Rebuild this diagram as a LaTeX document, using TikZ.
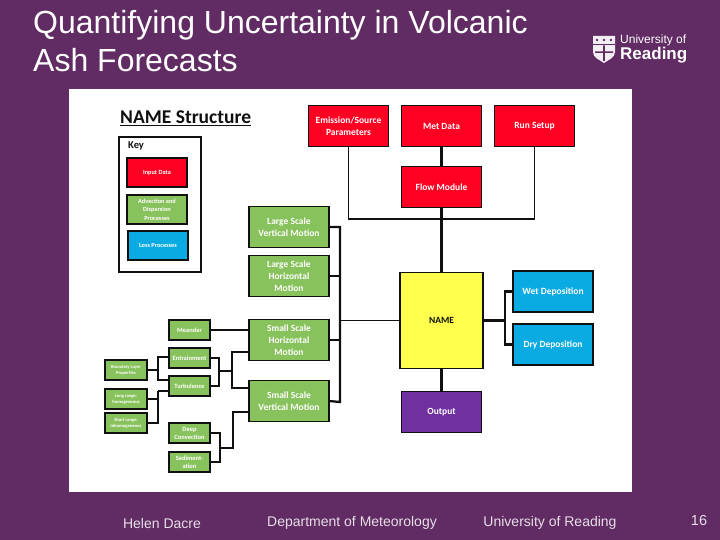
\documentclass[tikz,border=0pt]{standalone}
\usepackage{fontspec}
\setmainfont{Liberation Sans}
\newfontfamily\boxfont{Carlito}
\usetikzlibrary{positioning}
\definecolor{slidebg}{HTML}{612B63}
\definecolor{inputred}{HTML}{FF0022}
\definecolor{procgreen}{HTML}{88C25C}
\definecolor{lossblue}{HTML}{0AAAE2}
\definecolor{nameyellow}{HTML}{FFFF4D}
\definecolor{outpurple}{HTML}{7030A0}
\definecolor{linedark}{HTML}{101010}
\tikzset{
  boxbase/.style={draw=linedark, line width=1.6pt, outer sep=0pt, inner sep=1pt, align=center, text=white, font=\boxfont\bfseries},
  bigbox/.style={boxbase, minimum width=80pt, minimum height=41pt, font=\boxfont\bfseries\fontsize{9.5}{12}\selectfont},
  midbox/.style={boxbase, minimum width=41pt, minimum height=20pt, line width=1.3pt, font=\boxfont\bfseries\fontsize{6.5}{8}\selectfont},
  tinybox/.style={boxbase, minimum width=42pt, minimum height=20pt, line width=1.3pt, font=\boxfont\bfseries\fontsize{4.6}{6}\selectfont},
  keybox/.style={boxbase, minimum width=60pt, minimum height=29pt, font=\boxfont\bfseries\fontsize{6.3}{8.6}\selectfont},
  wire/.style={draw=linedark, line width=2.3pt},
  thinwire/.style={draw=linedark, line width=1.5pt},
  footer/.style={text=white!85!slidebg, font=\fontsize{14}{16}\selectfont}
}
\begin{document}
\begin{tikzpicture}[x=1pt, y=-1pt]
\useasboundingbox (0,0) rectangle (720,540);
\fill[slidebg] (0,0) rectangle (720,540);
\node[anchor=north west, inner sep=0pt, text=white, align=left, font=\fontsize{32}{38}\selectfont] (title) at (33,10) {Quantifying Uncertainty in Volcanic\\Ash Forecasts};
\fill[white] (69,89) rectangle (632,492);

\node[anchor=west, inner sep=0pt, font=\boxfont\bfseries\fontsize{19.5}{21}\selectfont, text=linedark] (heading) at (120,118) {\underline{NAME Structure}};
\node[draw=linedark, line width=1.6pt, minimum width=82pt, minimum height=135pt, outer sep=0pt] (keyframe) at (160,204.5) {};
\node[anchor=west, inner sep=0pt, font=\boxfont\bfseries\fontsize{10.5}{12}\selectfont, text=linedark] (keylabel) at (128,146) {Key};
\node[keybox, fill=inputred] (keyinput) at (157,172.5) {Input Data};
\node[keybox, fill=procgreen, below=8pt of keyinput] (keyadvect) {Advection and\\Dispersion\\Processes};
\node[keybox, fill=lossblue, below=7pt of keyadvect, xshift=1pt] (keyloss) {Loss Processes};

\node[bigbox, fill=inputred] (met) at (441.5,126) {Met Data};
\node[bigbox, fill=inputred, left=13pt of met] (emission) {Emission/Source\\Parameters};
\node[bigbox, fill=inputred, right=13pt of met] (run) {Run Setup};
\node[bigbox, fill=inputred, below=20pt of met] (flow) {Flow Module};
\node[bigbox, fill=nameyellow, text=linedark, minimum width=83pt, minimum height=96pt, below=65pt of flow] (name) {NAME};
\node[bigbox, fill=outpurple, below=23pt of name] (output) {Output};
\node[bigbox, fill=lossblue] (wet) at (553,291.5) {Wet Deposition};
\node[bigbox, fill=lossblue, below=12pt of wet] (dry) {Dry Deposition};

\node[bigbox, fill=procgreen] (largev) at (289,227) {Large Scale\\Vertical Motion};
\node[bigbox, fill=procgreen, below=8pt of largev] (largeh) {Large Scale\\Horizontal\\Motion};
\node[bigbox, fill=procgreen] (smallh) at (289,340) {Small Scale\\Horizontal\\Motion};
\node[bigbox, fill=procgreen, below=20pt of smallh] (smallv) {Small Scale\\Vertical Motion};

\node[midbox, fill=procgreen] (meander) at (189.5,330) {Meander};
\node[midbox, fill=procgreen, below=8pt of meander] (entrain) {Entrainment};
\node[midbox, fill=procgreen, below=8pt of entrain] (turb) {Turbulence};
\node[midbox, fill=procgreen] (deep) at (189.5,433) {Deep\\Convection};
\node[midbox, fill=procgreen, below=9pt of deep] (sediment) {Sediment-\\ation};
\node[tinybox, fill=procgreen] (boundary) at (126,370) {Boundary Layer\\Properties};
\node[tinybox, fill=procgreen, below=9pt of boundary] (longrange) {Long range:\\homogeneous};
\node[tinybox, fill=procgreen, below=4pt of longrange] (shortrange) {Short range:\\inhomogeneous};

\coordinate (bus) at (441.5,219);
\coordinate (trunk) at (340,402);
\coordinate (rightfork) at (505,320.5);
\coordinate (turbfork) at (219,371);
\coordinate (turbstem) at (232,371);
\coordinate (sedfork) at (220,448);
\coordinate (sedstem) at (233,448);
\coordinate (boundfork) at (158,370);
\coordinate (rangefork) at (158,391);

\draw[wire] (met) -- (flow);
\draw[wire] (flow) -- (name);
\draw[wire] (name) -- (output);
\draw[wire, line width=1.8pt] (emission) |- (bus) -| (run);
\draw[wire] (largev.east) -| (trunk) -- (smallv.east);
\draw[wire] (largeh.east) -- (largeh.east -| trunk);
\draw[thinwire] (smallh.east) -- (smallh.east -| trunk);
\draw[thinwire] (name.west) -- (name.west -| trunk);
\draw[wire] (name.east) -- (rightfork);
\draw[wire] (wet.west) -| (rightfork) |- (dry.west);
\draw[wire] (meander) -- (smallh.west |- meander);
\draw[thinwire] (entrain.east) -| (turbfork);
\draw[wire] (turbfork) |- (turb.east);
\draw[wire] (turbfork) -- (turbstem);
\draw[wire] (smallh.west |- 0,352) -| (turbstem) |- (smallv.west |- 0,388);
\draw[thinwire] (deep.east) -| (sedfork);
\draw[wire] (sedfork) |- (sediment.east);
\draw[thinwire] (sedfork) -- (sedstem) |- (smallv.west |- 0,412);
\draw[wire] (boundary.east) -- (boundfork);
\draw[thinwire] (entrain.west |- 0,357) -| (boundfork) |- (turb.west |- 0,380);
\draw[thinwire] (longrange.east) -- (longrange.east -| rangefork);
\draw[wire] (shortrange.east) -| (rangefork);
\draw[thinwire] (rangefork) -- (turb.west |- rangefork);

\fill[white!92!slidebg] (593,36) -- (615,36) -- (615,52) .. controls (615,58) and (608,60) .. (604,63) .. controls (600,60) and (593,58) .. (593,52) -- cycle;
\fill[slidebg] (593,44) rectangle (615,45.5);
\fill[slidebg] (597,40) circle (1.4) (604,40) circle (1.4) (611,40) circle (1.4);
\fill[slidebg] (603.2,45.5) rectangle (604.8,61) (595,51.5) rectangle (613,53);
\node[anchor=west, inner sep=0pt, text=white, font=\fontsize{12}{14}\selectfont] (logotop) at (620,40) {University of};
\node[anchor=west, inner sep=0pt, text=white, font=\bfseries\fontsize{17}{20}\selectfont] (logobottom) at (620,55.5) {Reading};

\node[footer] (author) at (162,523) {Helen Dacre};
\node[footer] (dept) at (352,523) {Department of Meteorology};
\node[footer] (univ) at (550,523) {University of Reading};
\node[footer, font=\fontsize{14.5}{16}\selectfont] (page) at (699,521) {16};
\end{tikzpicture}
\end{document}
